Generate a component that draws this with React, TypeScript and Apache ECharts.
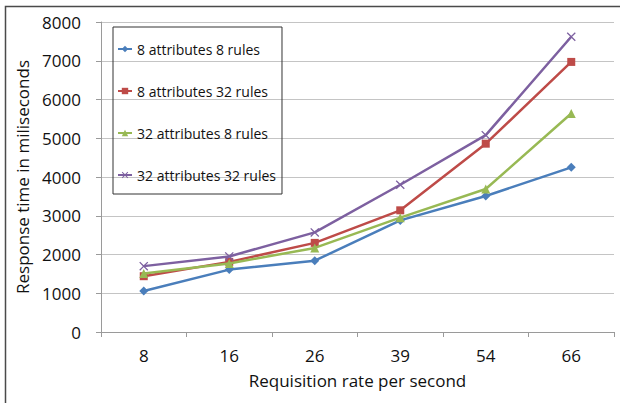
import React, { useEffect, useRef } from "react";
import * as echarts from "echarts";

const categories = ["8", "16", "26", "39", "54", "66"];
const seriesNames = [
  "8 attributes 8 rules",
  "8 attributes 32 rules",
  "32 attributes 8 rules",
  "32 attributes 32 rules",
];
const s8a8r = [1060, 1610, 1840, 2880, 3510, 4250];
const s8a32r = [1440, 1810, 2300, 3140, 4860, 6970];
const s32a8r = [1510, 1770, 2170, 2950, 3690, 5640];
const s32a32r = [1700, 1950, 2570, 3800, 5080, 7620];
const yTicks = { min: 0, max: 8000, interval: 1000 };

const colors = ["#4A7EBB", "#BE4B48", "#98B954", "#7D60A0"];
const crossPath =
  "path://M1,0 L5,4 L9,0 L10,1 L6,5 L10,9 L9,10 L5,6 L1,10 L0,9 L4,5 L0,1 Z";
const symbols = ["diamond", "rect", "triangle", crossPath];
const symbolSizes = [9, 8, 9, 9];

export default function App() {
  const ref = useRef<HTMLDivElement>(null);
  useEffect(() => {
    if (!ref.current) return;
    const chart = echarts.init(ref.current, null, { renderer: "svg" });
    const font = "'Open Sans', sans-serif";
    const data = [s8a8r, s8a32r, s32a8r, s32a32r];
    chart.setOption({
      animation: false,
      color: colors,
      textStyle: { fontFamily: font },
      graphic: [
        {
          type: "rect",
          shape: { x: 5.5, y: 6.5, width: 700, height: 500 },
          style: { fill: "none", stroke: "#4a4a4a", lineWidth: 1.5 },
          silent: true,
        },
      ],
      legend: {
        orient: "vertical",
        left: 113,
        top: 27,
        borderColor: "#333",
        borderWidth: 1,
        padding: [14, 6, 11, 4],
        itemGap: 26,
        itemWidth: 14,
        itemHeight: 8,
        textStyle: { fontSize: 14, color: "#111", fontFamily: font, lineHeight: 16 },
        data: seriesNames,
      },
      grid: { left: 101, right: 6, top: 22, bottom: 71, containLabel: false },
      xAxis: {
        type: "category",
        data: categories,
        boundaryGap: true,
        name: "Requisition rate per second",
        nameLocation: "middle",
        nameGap: 40,
        nameTextStyle: { fontSize: 17, color: "#111", fontFamily: font },
        axisLine: { lineStyle: { color: "#9a9a9a", width: 1 } },
        axisTick: { show: true, length: 5, lineStyle: { color: "#9a9a9a" } },
        axisLabel: { fontSize: 17, color: "#111", margin: 15, fontFamily: font },
      },
      yAxis: {
        type: "value",
        min: yTicks.min,
        max: yTicks.max,
        interval: yTicks.interval,
        name: "Response time in miliseconds",
        nameLocation: "middle",
        nameGap: 60,
        nameTextStyle: { fontSize: 17, color: "#111", fontFamily: font },
        axisLine: { show: true, lineStyle: { color: "#9a9a9a", width: 1 } },
        axisTick: { show: true, length: 5, lineStyle: { color: "#9a9a9a" } },
        axisLabel: {
          fontSize: 17,
          color: "#111",
          margin: 20,
          fontFamily: font,
          formatter: (v: number) => String(v),
        },
        splitLine: { show: true, lineStyle: { color: "#c4c4c4", width: 1 } },
      },
      series: seriesNames.map((name, i) => ({
        name,
        type: "line",
        data: data[i],
        symbol: symbols[i],
        symbolSize: symbolSizes[i],
        showAllSymbol: true,
        lineStyle: { width: 2.5, color: colors[i] },
        itemStyle: { color: colors[i] },
        z: 2 + i,
      })),
    });
    return () => chart.dispose();
  }, []);
  return (
    <div
      ref={ref}
      style={{ position: "absolute", left: 0, top: 0, width: 620, height: 403, background: "#fff" }}
    />
  );
}
